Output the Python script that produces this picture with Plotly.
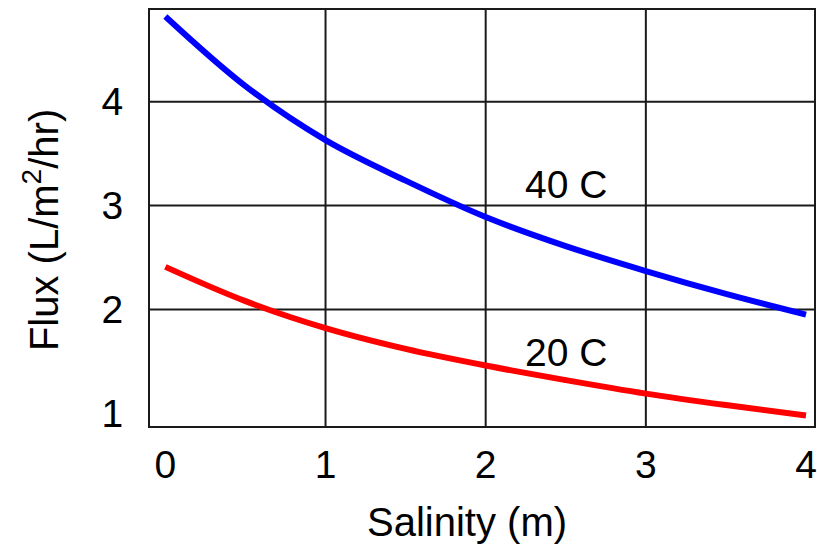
import plotly.graph_objects as go

# Salinity (m) sample points
salinity = [0.0, 0.5, 1.0, 1.5, 2.0, 2.5, 3.0, 3.5, 4.0]
# Flux (L/m^2/hr) at each temperature
flux_40c = [4.82, 4.15, 3.63, 3.24, 2.89, 2.61, 2.37, 2.15, 1.95]
flux_20c = [2.41, 2.08, 1.82, 1.62, 1.46, 1.32, 1.19, 1.08, 0.98]

x_ticks = [0, 1, 2, 3, 4]
y_ticks = [1, 2, 3, 4]
x_grid = [1, 2, 3]
y_grid = [2, 3, 4]

curve_labels = [
    ("40 C", 2.5, 3.2),
    ("20 C", 2.5, 1.59),
]

FONT = "Liberation Sans, Arial, sans-serif"
INK = "#1a1a1a"

fig = go.Figure()
fig.add_trace(go.Scatter(x=salinity, y=flux_40c, mode="lines",
                         line=dict(color="#0000FF", width=6, shape="spline", smoothing=1.0),
                         showlegend=False))
fig.add_trace(go.Scatter(x=salinity, y=flux_20c, mode="lines",
                         line=dict(color="#FF0000", width=6, shape="spline", smoothing=1.0),
                         showlegend=False))

shapes = []
for gx in x_grid:
    shapes.append(dict(type="line", xref="x", yref="paper", x0=gx, x1=gx, y0=0, y1=1,
                       line=dict(color=INK, width=2), layer="below"))
for gy in y_grid:
    shapes.append(dict(type="line", xref="paper", yref="y", x0=0, x1=1, y0=gy, y1=gy,
                       line=dict(color=INK, width=2), layer="below"))

annotations = [dict(x=x, y=y, text=t, showarrow=False, xanchor="center", yanchor="middle",
                    font=dict(family=FONT, size=39, color="#000"))
               for t, x, y in curve_labels]

# axis titles placed as paper-anchored annotations
annotations.append(dict(text="Salinity (m)", xref="paper", yref="paper", x=0.478, y=0,
                        xanchor="center", yanchor="top", yshift=-72, showarrow=False,
                        font=dict(family=FONT, size=40, color="#000")))
annotations.append(dict(text="Flux (L/m<sup>2</sup>/hr)", xref="paper", yref="paper",
                        x=0, y=0.471, xanchor="center", yanchor="middle", xshift=-109,
                        textangle=-90, showarrow=False,
                        font=dict(family=FONT, size=40, color="#000")))

fig.update_layout(
    width=817, height=546,
    margin=dict(l=150, r=0, t=10, b=120),
    paper_bgcolor="white", plot_bgcolor="white",
    shapes=shapes, annotations=annotations,
    font=dict(family=FONT, size=39, color="#000"),
    xaxis=dict(range=[-0.096, 4.05], tickvals=x_ticks, ticktext=[str(v) for v in x_ticks],
               showgrid=False, zeroline=False, showline=True, linecolor=INK, linewidth=2,
               mirror=True, ticks="", ticklabelstandoff=3, tickfont=dict(size=39),
               ticklabeloverflow="allow"),
    yaxis=dict(range=[0.878, 4.883], tickvals=y_ticks, ticktext=[str(v) for v in y_ticks],
               showgrid=False, zeroline=False, showline=True, linecolor=INK, linewidth=2,
               mirror=True, ticks="", ticklabelstandoff=17, tickfont=dict(size=39)),
)

fig.write_html("out.html")
